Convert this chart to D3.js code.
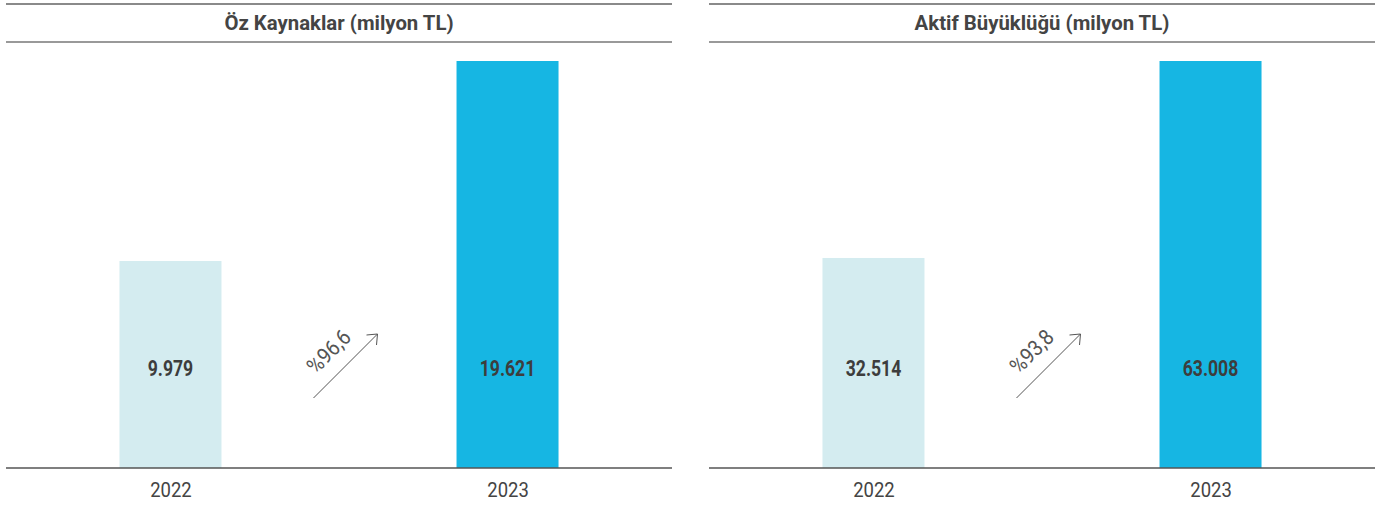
<!DOCTYPE html>
<html><head><meta charset="utf-8">
<script src="https://cdn.jsdelivr.net/npm/d3@7"></script>
<style>body{margin:0;background:#fff}svg{display:block}</style>
</head><body><svg id="c" width="1381" height="505"></svg>
<script>
const titles = ["Öz Kaynaklar (milyon TL)", "Aktif Büyüklüğü (milyon TL)"];
const years = ["2022", "2023"];
const values = [[9979, 19621], [32514, 63008]];
const valueLabels = [["9.979", "19.621"], ["32.514", "63.008"]];
const growthLabels = ["%96,6", "%93,8"];
const barColors = ["#d4ecf0", "#16b6e3"];

const svg = d3.select("#c");
const panels = [{x0: 6, x1: 672}, {x0: 709, x1: 1375}];
const yTop = 61, yBase = 468, barW = 102;
const font = "Roboto,'DejaVu Sans',sans-serif";

panels.forEach((p, i) => {
  const g = svg.append("g");
  const x = d3.scalePoint().domain(years).range([p.x0, p.x1]).padding(0.488);
  const y = d3.scaleLinear().domain([0, d3.max(values[i])]).range([yBase, yTop]);
  g.append("line").attr("x1", p.x0).attr("x2", p.x1).attr("y1", 4).attr("y2", 4)
    .attr("stroke", "#8a8a8a").attr("stroke-width", 2);
  g.append("line").attr("x1", p.x0).attr("x2", p.x1).attr("y1", 42).attr("y2", 42)
    .attr("stroke", "#999").attr("stroke-width", 2);
  g.append("text").attr("transform", `translate(${(p.x0 + p.x1) / 2},30) scale(0.97,1)`)
    .attr("text-anchor", "middle")
    .attr("font-family", font).attr("font-weight", "bold").attr("font-size", 21)
    .attr("fill", "#444").text(titles[i]);
  g.selectAll("rect").data(values[i]).join("rect")
    .attr("x", (d, j) => x(years[j]) - barW / 2).attr("width", barW)
    .attr("y", d => y(d)).attr("height", d => yBase - y(d))
    .attr("fill", (d, j) => barColors[j]);
  g.selectAll("text.v").data(valueLabels[i]).join("text").attr("class", "v")
    .attr("transform", (d, j) => `translate(${x(years[j])},376) scale(0.8,1)`)
    .attr("text-anchor", "middle")
    .attr("font-family", font).attr("font-weight", "bold").attr("font-size", 22)
    .attr("fill", "#3d3d3d").text(d => d);
  const ax = g.append("g").attr("transform", `translate(0,${yBase})`)
    .call(d3.axisBottom(x).tickSize(0).tickPadding(14));
  ax.select(".domain").attr("stroke", "#555").attr("stroke-width", 1.5)
    .attr("d", `M${p.x0},0H${p.x1}`);
  ax.selectAll(".tick text").attr("font-family", font).attr("font-size", 21).attr("fill", "#444")
    .attr("transform", "scale(0.88,1)");
  const mid = (x(years[0]) + x(years[1])) / 2;
  const ax0 = mid - 25.5, ay0 = 398, ax1 = mid + 38.5, ay1 = 334;
  g.append("line").attr("x1", ax0).attr("y1", ay0).attr("x2", ax1).attr("y2", ay1)
    .attr("stroke", "#555").attr("stroke-width", 1);
  g.append("path").attr("d", `M${ax1 - 11},${ay1 + 1}L${ax1},${ay1}L${ax1 - 1},${ay1 + 11}`)
    .attr("fill", "none").attr("stroke", "#555").attr("stroke-width", 1);
  g.append("text").attr("transform", `translate(${mid - 5},${357}) rotate(-45) scale(0.9,1)`)
    .attr("text-anchor", "middle").attr("font-family", font).attr("font-size", 22)
    .attr("fill", "#555").text(growthLabels[i]);
});
</script></body></html>
